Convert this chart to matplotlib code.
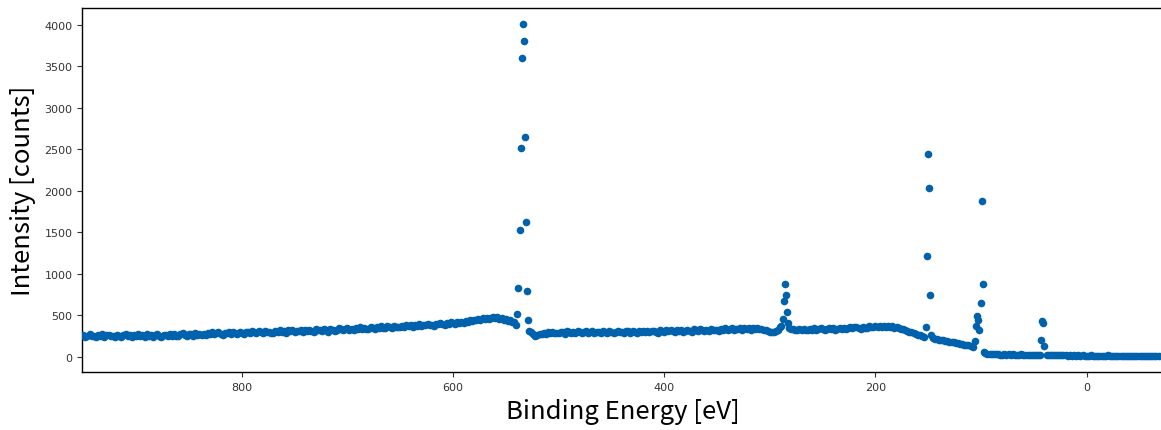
import numpy as np
import matplotlib
matplotlib.use("Agg")
import matplotlib.pyplot as plt

nan = np.nan

# background counts on a 2 eV grid, 950 eV -> -68 eV (one row = 30 eV)
# nan where a core-level peak is listed separately below
bg_start, bg_step = 950, -2
bg_counts = [
    262, 241, 255, 270, 246, 251, 233, 260, 248, 272, 239, 257, 266, 244, 253,
    243, 266, 252, 235, 259, 274, 247, 256, 240, 263, 251, 270, 245, 258, 236,
    271, 249, 262, 242, 258, 279, 252, 238, 265, 257, 246, 268, 255, 274, 250,
    248, 270, 282, 259, 246, 268, 276, 253, 285, 262, 271, 257, 279, 264, 288,
    274, 293, 268, 285, 299, 277, 264, 291, 284, 303, 279, 295, 286, 272, 298,
    288, 273, 302, 296, 281, 308, 292, 285, 305, 298, 283, 311, 294, 300, 287,
    287, 311, 301, 320, 297, 308, 291, 316, 304, 324, 299, 313, 306, 320, 296,
    318, 304, 326, 311, 298, 331, 316, 323, 309, 334, 317, 302, 328, 320, 313,
    322, 343, 331, 316, 339, 349, 327, 337, 321, 346, 333, 352, 329, 344, 338,
    337, 354, 348, 331, 360, 344, 368, 351, 340, 364, 353, 347, 370, 356, 362,
    358, 375, 354, 379, 368, 387, 363, 383, 373, 392, 369, 386, 378, 396, 381,
    383, 374, 396, 388, 403, 392, 384, 410, 397, 415, 401, 389, 412, 404, 419,
    410, 427, 420, 439, 433, 448, 440, 459, 447, 466, 452, 471, 458, 464, 474,
    461, 476, 452, 468, 447, 455, 436, 442, 421, 412, 384, nan, nan, nan, nan,
    nan, 312, 294, 268, 251, 262, 279, 270, 288, 276, 293, 282, 297, 285, 291,
    284, 301, 292, 278, 307, 295, 283, 300, 288, 305, 293, 281, 298, 309, 290,
    292, 310, 287, 303, 297, 281, 312, 300, 289, 306, 295, 284, 302, 311, 293,
    298, 285, 311, 304, 291, 315, 302, 288, 308, 296, 310, 293, 305, 299, 314,
    313, 301, 290, 319, 306, 296, 317, 304, 325, 310, 298, 316, 307, 321, 302,
    306, 321, 313, 299, 328, 316, 305, 332, 318, 311, 324, 309, 330, 317, 322,
    326, 313, 337, 321, 342, 319, 331, 345, 325, 338, 330, 346, 327, 340, 333,
    340, 327, 347, 333, 342, 330, 338, 326, 318, 309, 303, 297, 300, 312, 326,
    356, nan, nan, nan, 343, 329, 334, 318, 327, 337, 321, 331, 316, 325, 334,
    327, 340, 320, 333, 345, 330, 323, 338, 347, 332, 341, 326, 337, 349, 335,
    350, 339, 346, 358, 342, 354, 363, 348, 338, 360, 351, 344, 366, 355, 361,
    365, 353, 370, 358, 373, 362, 368, 357, 364, 350, 355, 348, 339, 331, 318,
    311, 299, 293, 284, 276, 264, 258, 247, 236, nan, nan, nan, 229, 217, 209,
    203, 197, 206, 190, 194, 183, 178, 172, 169, 163, 157, 153, 146, 141, 137,
    128, 116, nan, nan, nan, nan, nan, 42, 34, 31, 29, 32, 27, 30, 26,
    25, 29, 23, 27, 24, 28, 22, 26, 23, 27, 21, 25, 23, 26, 22,
    22, 25, 21, 26, nan, nan, 19, 22, 17, 20, 16, 19, 15, 18, 16,
    16, 13, 17, 14, 18, 12, 15, 13, 16, 12, 14, 11, 15, 13, 12,
    11, 14, 10, 13, 11, 15, 12, 9, 13, 11, 10, 14, 12, 9, 11,
    10, 13, 9, 12, 10, 14, 11, 8, 12, 10, 9, 12, 10, 8, 11,
]

# core-level peaks, 1 eV steps
o1s_be = [539, 538, 537, 536, 535, 534, 533, 532, 531, 530, 529]
o1s_counts = [511, 824, 1527, 2514, 3595, 4008, 3804, 2647, 1619, 792, 446]
c1s_be = [289, 288, 287, 286, 285, 284, 283]
c1s_counts = [372, 458, 665, 872, 743, 538, 406]
si2s_be = [152, 151, 150, 149, 148, 147]
si2s_counts = [358, 1213, 2439, 2036, 747, 265]
si2p_be = [106, 105, 104, 103, 102, 100, 99, 98, 97]
si2p_counts = [190, 373, 494, 446, 318, 646, 1880, 880, 55]
low_be = [43, 42, 41, 40]
low_counts = [205, 434, 406, 125]

bg_be = bg_start + bg_step * np.arange(len(bg_counts))
be = np.concatenate([bg_be, o1s_be, c1s_be, si2s_be, si2p_be, low_be])
counts = np.concatenate([bg_counts, o1s_counts, c1s_counts, si2s_counts,
                         si2p_counts, low_counts]).astype(float)

fig = plt.figure(figsize=(11.61, 4.31), dpi=100)
ax = fig.add_axes([82.3/1161, 57.7/431, (1163-82.3)/1161, 364.3/431])

ax.scatter(be, counts, s=30, color='#0061ad', linewidths=0, zorder=3)

ax.set_xlim(950.9, -72.2)
ax.set_ylim(-188, 4201)
ax.set_xticks([800, 600, 400, 200, 0])
ax.set_yticks(range(0, 4001, 500))
ax.tick_params(labelsize=8, length=3.5, width=0.8, colors='#333333')
ax.spines['right'].set_visible(False)
for sp in ax.spines.values():
    sp.set_linewidth(1.0)

lab_font = ['Noto Sans CJK JP', 'DejaVu Sans']
ax.set_xlabel('Binding Energy [eV]', fontsize=18.5, family=lab_font, labelpad=4)
ax.set_ylabel('Intensity [counts]', fontsize=18.5, family=lab_font, labelpad=6)

fig.savefig('out.png', dpi=100)
